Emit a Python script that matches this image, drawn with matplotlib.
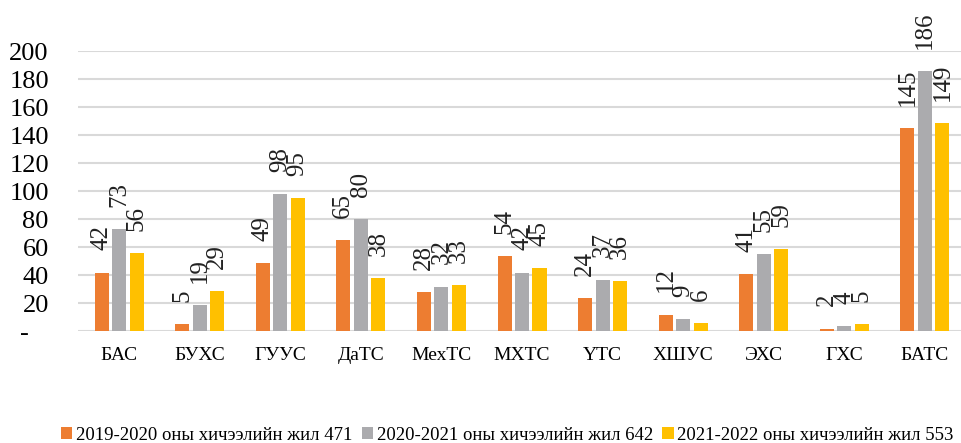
import matplotlib.pyplot as plt
import numpy as np

plt.rcParams['font.family'] = ['Liberation Serif', 'DejaVu Serif']

categories = ['БАС', 'БУХС', 'ГУУС', 'ДаТС', 'МехТС', 'МХТС', 'ҮТС', 'ХШУС', 'ЭХС', 'ГХС', 'БАТС']
v2019 = [42, 5, 49, 65, 28, 54, 24, 12, 41, 2, 145]
v2020 = [73, 19, 98, 80, 32, 42, 37, 9, 55, 4, 186]
v2021 = [56, 29, 95, 38, 33, 45, 36, 6, 59, 5, 149]
series_names = ['2019-2020 оны хичээлийн жил 471',
                '2020-2021 оны хичээлийн жил 642',
                '2021-2022 оны хичээлийн жил 553']
colors = ['#ED7D31', '#ABABAE', '#FFC000']
yticks = [0, 20, 40, 60, 80, 100, 120, 140, 160, 180, 200]
ytick_labels = ['-   '] + [str(t) for t in yticks[1:]]

fig = plt.figure(figsize=(9.61, 4.43), dpi=100)
ax = fig.add_axes([0.0812, 0.252, 0.9188, 0.632])

x = np.arange(len(categories))
w = 0.174
step = 0.217
for i, vals in enumerate([v2019, v2020, v2021]):
    pos = x + (i - 1) * step
    ax.bar(pos, vals, width=w, color=colors[i], label=series_names[i], zorder=3)
    for p, v in zip(pos, vals):
        ax.annotate(str(v), (p, v), xytext=(0, 16), textcoords='offset points',
                    rotation=90, ha='center', va='bottom', fontsize=18, color='#222222')

ax.set_ylim(0, 200)
ax.set_xlim(-0.509, 10.447)
ax.set_yticks(yticks)
ax.set_yticklabels(ytick_labels, fontsize=19)
ax.set_xticks(x)
ax.set_xticklabels(categories, fontsize=14)
ax.tick_params(axis='y', length=0, pad=21)
ax.tick_params(axis='x', length=0, pad=11)
ax.grid(axis='y', color='#D9D9D9', linewidth=1.5, zorder=0)
for s in ax.spines.values():
    s.set_visible(False)

fig.legend(loc='lower center', bbox_to_anchor=(0.528, -0.04), ncol=3, frameon=False,
           fontsize=13.5, handlelength=0.6, handleheight=0.6, handletextpad=0.2, columnspacing=0.5)

fig.savefig('out.png', dpi=100)
